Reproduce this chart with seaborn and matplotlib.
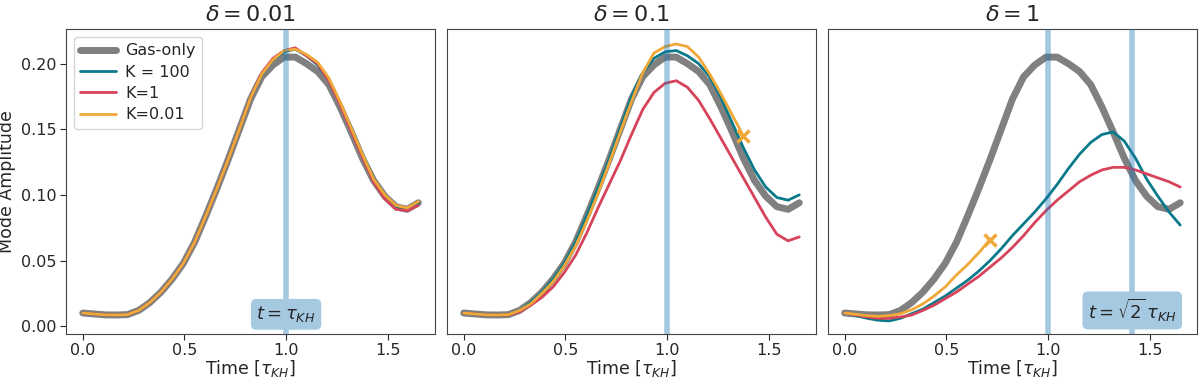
import numpy as np
import seaborn as sns
import matplotlib.pyplot as plt

# time grid in units of tau_KH
time = [0.0, 0.055, 0.11, 0.165, 0.22, 0.275, 0.33, 0.385, 0.44, 0.495, 0.55,
        0.605, 0.66, 0.715, 0.77, 0.825, 0.88, 0.935, 0.99, 1.045, 1.10,
        1.155, 1.21, 1.265, 1.32, 1.375, 1.43, 1.485, 1.54, 1.595, 1.65]

gas_only = [0.010, 0.0093, 0.0086, 0.0085, 0.0088, 0.012, 0.018, 0.026, 0.036, 0.048, 0.064,
            0.084, 0.105, 0.127, 0.150, 0.173, 0.190, 0.199, 0.205, 0.205, 0.200,
            0.194, 0.184, 0.167, 0.148, 0.128, 0.111, 0.099, 0.091, 0.089, 0.094]

# delta = 0.01
d001_k100 = [0.010, 0.0093, 0.0086, 0.0085, 0.0088, 0.012, 0.018, 0.026, 0.036, 0.048, 0.064,
             0.084, 0.105, 0.127, 0.150, 0.174, 0.192, 0.203, 0.209, 0.211, 0.206,
             0.199, 0.187, 0.170, 0.151, 0.131, 0.112, 0.099, 0.090, 0.089, 0.093]
d001_k1 = [0.010, 0.0093, 0.0086, 0.0085, 0.0088, 0.012, 0.018, 0.026, 0.036, 0.048, 0.064,
           0.084, 0.105, 0.127, 0.150, 0.174, 0.193, 0.204, 0.210, 0.212, 0.206,
           0.200, 0.187, 0.169, 0.149, 0.129, 0.110, 0.097, 0.089, 0.088, 0.092]
d001_k001 = [0.010, 0.0093, 0.0086, 0.0085, 0.0088, 0.012, 0.018, 0.026, 0.036, 0.048, 0.064,
             0.084, 0.105, 0.127, 0.150, 0.174, 0.192, 0.203, 0.210, 0.211, 0.207,
             0.201, 0.189, 0.171, 0.151, 0.131, 0.112, 0.100, 0.092, 0.090, 0.095]

# delta = 0.1
d01_k100 = [0.010, 0.0093, 0.0086, 0.0085, 0.0088, 0.012, 0.018, 0.026, 0.036, 0.048, 0.064,
            0.084, 0.105, 0.127, 0.151, 0.175, 0.193, 0.204, 0.209, 0.210, 0.206,
            0.200, 0.190, 0.174, 0.155, 0.136, 0.119, 0.106, 0.098, 0.096, 0.100]
d01_k1 = [0.010, 0.0093, 0.0086, 0.0085, 0.0086, 0.011, 0.016, 0.022, 0.030, 0.041, 0.054,
          0.071, 0.090, 0.108, 0.126, 0.146, 0.165, 0.178, 0.185, 0.187, 0.182,
          0.172, 0.158, 0.143, 0.128, 0.113, 0.098, 0.083, 0.070, 0.065, 0.068]
d01_k001 = [0.010, 0.0093, 0.0086, 0.0085, 0.0088, 0.012, 0.017, 0.025, 0.034, 0.046, 0.061,
            0.080, 0.101, 0.124, 0.148, 0.171, 0.193, 0.208, 0.213, 0.215, 0.213,
            0.205, 0.192, 0.177, 0.161, 0.145]

# delta = 1
d1_k100 = [0.010, 0.008, 0.006, 0.0045, 0.004, 0.006, 0.0095, 0.013, 0.018, 0.023, 0.029,
           0.035, 0.042, 0.050, 0.059, 0.069, 0.078, 0.087, 0.097, 0.108, 0.120,
           0.131, 0.140, 0.146, 0.148, 0.141, 0.128, 0.112, 0.099, 0.087, 0.077]
d1_k1 = [0.010, 0.0085, 0.007, 0.006, 0.006, 0.007, 0.0085, 0.012, 0.016, 0.021, 0.026,
         0.032, 0.038, 0.045, 0.052, 0.060, 0.069, 0.079, 0.088, 0.096, 0.103,
         0.110, 0.115, 0.119, 0.121, 0.121, 0.119, 0.116, 0.113, 0.110, 0.106]
d1_k001 = [0.010, 0.009, 0.008, 0.0075, 0.008, 0.0095, 0.0125, 0.017, 0.023, 0.030, 0.039,
           0.047, 0.056, 0.066]

titles = [r"$\delta = 0.01$", r"$\delta = 0.1$", r"$\delta = 1$"]
panels = [
    (d001_k100, d001_k1, d001_k001),
    (d01_k100, d01_k1, d01_k001),
    (d1_k100, d1_k1, d1_k001),
]
labels = ["K = 100", "K=1", "K=0.01"]
colors = ["#0a7a8a", "#d6435a", "#f0a838"]
vline_color = "#1f77b4"

sns.set_style("white")
plt.rcParams["font.family"] = ["DejaVu Sans"]
plt.rcParams["axes.edgecolor"] = "#444444"

fig, axes = plt.subplots(1, 3, figsize=(12, 3.8), dpi=100, sharey=True)
fig.subplots_adjust(left=0.055, right=0.9975, top=0.924, bottom=0.121, wspace=0.032)

for i, ax in enumerate(axes):
    sns.lineplot(x=time, y=gas_only, ax=ax, color="gray", linewidth=5,
                 label="Gas-only", legend=(i == 0))
    for series, lab, col in zip(panels[i], labels, colors):
        t = time[:len(series)]
        sns.lineplot(x=t, y=series, ax=ax, color=col, linewidth=2,
                     label=lab, legend=(i == 0))
        if len(series) < len(time):
            ax.plot(t[-1], series[-1], marker="x", color=col, markersize=9,
                    markeredgewidth=2.5)
    ax.axvline(1.0, color=vline_color, alpha=0.4, linewidth=4, zorder=5)
    ax.set_title(titles[i], fontsize=16)
    ax.set_xlabel(r"Time [$\tau_{KH}$]", fontsize=12.5, labelpad=0)
    ax.set_xticks([0.0, 0.5, 1.0, 1.5])
    ax.tick_params(axis="both", labelsize=11.5, bottom=True, length=4, pad=2.5)
    ax.set_xlim(-0.0825, 1.7325)

axes[0].set_ylim(-0.0060, 0.2265)
axes[0].set_yticks([0.0, 0.05, 0.10, 0.15, 0.20])
axes[0].set_ylabel("Mode Amplitude", fontsize=12.5, labelpad=4)
axes[0].tick_params(axis="y", left=True)
axes[1].tick_params(axis="y", left=False)
axes[2].tick_params(axis="y", left=False)

box = dict(boxstyle="round,pad=0.3", facecolor="#a5c9e1", edgecolor="none")
axes[0].text(1.0, 0.009, r"$t = \tau_{KH}$", ha="center", va="center",
             fontsize=13, bbox=box, zorder=6)
axes[2].axvline(np.sqrt(2), color=vline_color, alpha=0.4, linewidth=4, zorder=5)
axes[2].text(np.sqrt(2), 0.012, r"$t = \sqrt{2}\,\tau_{KH}$", ha="center", va="center",
             fontsize=13, bbox=box, zorder=6)

axes[0].legend(loc="upper left", fontsize=11.5, handlelength=2.2, handletextpad=0.6,
               labelspacing=0.4, frameon=True)

fig.savefig("out.png", dpi=100)
